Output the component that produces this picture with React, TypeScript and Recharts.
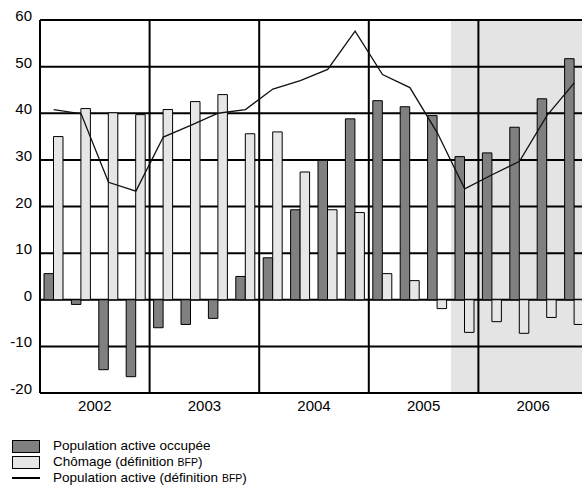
import React from "react";
import {
  ComposedChart,
  Bar,
  Line,
  XAxis,
  YAxis,
  CartesianGrid,
  ReferenceArea,
  ReferenceLine,
} from "recharts";

// trimestres 2002T1 .. 2006T4
const years = [2002, 2003, 2004, 2005, 2006];
const quarters = years.flatMap((y) => [1, 2, 3, 4].map((q) => `${y}T${q}`));

// Population active occupée (barres foncées)
const emploi = [
  5.6, -1.0, -15.0, -16.5, -6.0, -5.3, -4.0, 5.0, 9.0, 19.3, 29.9, 38.8, 42.7,
  41.4, 39.5, 30.7, 31.5, 37.0, 43.1, 51.7,
];
// Chômage (définition BFP) (barres claires)
const chomage = [
  35.0, 41.0, 40.1, 39.7, 40.8, 42.5, 44.0, 35.6, 36.0, 27.4, 19.3, 18.7, 5.6,
  4.1, -1.9, -7.0, -4.7, -7.2, -3.8, -5.3,
];
// Population active (définition BFP) (ligne)
const popActive = [
  40.8, 39.9, 25.2, 23.3, 34.9, 37.4, 40.0, 40.8, 45.2, 47.0, 49.4, 57.6, 48.3,
  45.5, 35.8, 23.8, 26.8, 29.7, 39.5, 46.5,
];
const yTicks = [-20, -10, 0, 10, 20, 30, 40, 50, 60];
const forecastStart = "2005T4";

const data = quarters.map((q, i) => ({
  q,
  x: i + 0.5,
  emploi: emploi[i],
  chomage: chomage[i],
  pop: popActive[i],
}));

const font = "'Liberation Sans', Arial, Helvetica, sans-serif";

const YTick = (props: any) => {
  const { x, y, payload } = props;
  return (
    <text
      x={x}
      y={y - 4.5}
      textAnchor="end"
      dominantBaseline="central"
      fontSize={15}
      fontFamily={font}
      fill="#000"
    >
      {payload.value}
    </text>
  );
};

const XTick = (props: any) => {
  const { x, y, payload } = props;
  return (
    <text
      x={x}
      y={y + 18}
      textAnchor="middle"
      fontSize={15}
      fontFamily={font}
      fill="#000"
    >
      {years[Math.floor(payload.value / 4)]}
    </text>
  );
};

const Swatch = ({ fill }: { fill: string }) => (
  <div
    style={{
      width: 28,
      height: 13,
      boxSizing: "border-box",
      background: fill,
      border: "1px solid #000",
      marginLeft: 4,
    }}
  />
);

const LegendRow = ({ icon, children }: any) => (
  <div style={{ display: "flex", alignItems: "center", height: 16 }}>
    {icon}
    <span style={{ marginLeft: 13 }}>{children}</span>
  </div>
);

const App = () => {
  const n = quarters.length;
  const startIdx = quarters.indexOf(forecastStart);
  const yearBounds = years.slice(1).map((_, i) => (i + 1) * 4);
  const yearCenters = years.map((_, i) => i * 4 + 2);

  return (
    <div
      style={{
        position: "fixed",
        left: 0,
        top: 0,
        width: 582,
        height: 492,
        overflow: "hidden",
        fontFamily: font,
        background: "#fff",
      }}
    >
      <div style={{ position: "absolute", left: 8, top: 8 }}>
        <ComposedChart
          width={580}
          height={410}
          data={data}
          margin={{ top: 12, right: 0, bottom: 0, left: 0 }}
          barGap={0}
        >
          <ReferenceArea
            x1={startIdx}
            x2={n}
            fill="#e4e4e4"
            fillOpacity={1}
            stroke="none"
            zIndex={-200}
          />
          <CartesianGrid vertical={false} stroke="#000" strokeWidth={2} />
          <XAxis
            type="number"
            dataKey="x"
            domain={[0, n]}
            ticks={yearCenters}
            tick={<XTick />}
            tickLine={false}
            tickSize={0}
            tickMargin={0}
            height={25}
            axisLine={{ stroke: "#000", strokeWidth: 2 }}
          />
          <YAxis
            domain={[-20, 60]}
            ticks={yTicks}
            width={32}
            tick={<YTick />}
            tickLine={false}
            tickSize={0}
            tickMargin={8}
            axisLine={{ stroke: "#000", strokeWidth: 2 }}
          />
          {yearBounds.map((b) => (
            <ReferenceLine key={b} x={b} stroke="#000" strokeWidth={2} />
          ))}
          <Bar
            dataKey="emploi"
            fill="#808080"
            stroke="#000"
            strokeWidth={1}
            barSize={9.5}
            isAnimationActive={false}
          />
          <Bar
            dataKey="chomage"
            fill="#e6e6e6"
            stroke="#000"
            strokeWidth={1}
            barSize={9.5}
            isAnimationActive={false}
          />
          <Line
            dataKey="pop"
            type="linear"
            stroke="#111"
            strokeWidth={1.3}
            dot={false}
            isAnimationActive={false}
          />
        </ComposedChart>
        <div
          style={{
            marginTop: 20,
            fontSize: 13.5,
            lineHeight: "16px",
            color: "#000",
          }}
        >
          <LegendRow icon={<Swatch fill="#808080" />}>
            Population active occupée
          </LegendRow>
          <LegendRow icon={<Swatch fill="#e6e6e6" />}>
            Chômage (définition <span style={{ fontSize: 10.5 }}>BFP</span>)
          </LegendRow>
          <LegendRow
            icon={
              <div
                style={{
                  width: 28,
                  height: 2,
                  background: "#000",
                  marginLeft: 4,
                }}
              />
            }
          >
            Population active (définition{" "}
            <span style={{ fontSize: 10.5 }}>BFP</span>)
          </LegendRow>
        </div>
      </div>
    </div>
  );
};

export default App;
